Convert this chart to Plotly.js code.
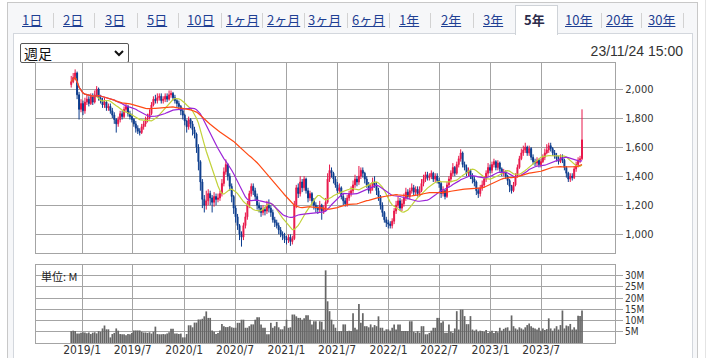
<!DOCTYPE html>
<html>
<head>
<meta charset="utf-8">
<script src="https://cdn.plot.ly/plotly-3.0.1.min.js"></script>
<style>
html,body{margin:0;padding:0;width:709px;height:358px;overflow:hidden;background:#fff;font-family:"Noto Sans CJK JP",sans-serif;}
#outer{position:absolute;left:7px;top:2px;width:689px;height:420px;border:1px solid #c8c8c8;background:#f6f7f9;}
#panel{position:absolute;left:13px;top:33px;width:678px;height:420px;border:1px solid #d3d7dd;background:#fff;}
#active{position:absolute;left:515px;top:5px;width:41px;height:29px;border:1px solid #cfd3d8;border-bottom:none;background:#fff;z-index:2;}
.tab{position:absolute;top:11px;font-size:13px;line-height:17px;color:#1f3f93;text-decoration:underline;white-space:nowrap;z-index:3;}
.tab.on{color:#2b2b4a;font-weight:bold;text-decoration:none;}
.sep{position:absolute;top:13px;width:1px;height:15px;background:#d2d2d2;z-index:3;}
#sel{position:absolute;left:20px;top:43px;width:107px;height:18px;border:1px solid #555;border-radius:2px;background:#fff;font-size:14px;line-height:18px;color:#111;z-index:3;}
#sel span{position:absolute;left:3px;top:0;}
#sel svg{position:absolute;right:4px;top:6px;}
#stamp{position:absolute;right:26px;top:42px;font-family:"Liberation Sans",Arial,sans-serif;font-size:14px;line-height:18px;color:#333;z-index:3;}
#rbar{position:absolute;left:705px;top:0;width:1px;height:358px;background:#e4e4e4;}
#chart{position:absolute;left:0;top:0;width:709px;height:358px;z-index:4;}
</style>
</head>
<body>
<div id="outer"></div>
<div id="panel"></div>
<div id="active"></div>
<div id="rbar"></div>
<div id="tabs"></div>
<div id="sel"><span>週足</span><svg width="10" height="7" viewBox="0 0 10 7"><path d="M1 1 L5 5 L9 1" stroke="#111" stroke-width="2" fill="none"/></svg></div>
<div id="stamp">23/11/24 15:00</div>
<div id="chart"></div>
<script>
// ---- tab bar ----
const tabLabels = ["1日","2日","3日","5日","10日","1ヶ月","2ヶ月","3ヶ月","6ヶ月","1年","2年","3年","5年","10年","20年","30年"];
const tabLeft = [22,63,105,147,187,226,267,308,352,399,441,483,524,565,606,648];
const sepLeft = [53,94,137,178,221,262,304,347,389,430,473,601,641,683];
const activeTab = "5年";
(function(){
  const t = document.getElementById('tabs');
  tabLabels.forEach((s,i)=>{
    const d=document.createElement('div');
    d.className='tab'+(s===activeTab?' on':'');
    d.style.left=tabLeft[i]+'px';
    d.textContent=s; t.appendChild(d);
  });
  sepLeft.forEach(x=>{const d=document.createElement('div');d.className='sep';d.style.left=x+'px';t.appendChild(d);});
})();

// ---- data (weekly, last week ending 2023-11-24) ----
const lastWeek = "2023-11-24";
const opens = [2030,2050,2080,2110,1960,1860,1900,1850,1910,1930,1900,1950,1910,1960,2000,1940,1920,1890,1910,1870,1880,1850,1820,1790,1760,1790,1830,1810,1860,1880,1830,1810,1790,1760,1730,1710,1700,1740,1760,1790,1800,1830,1890,1930,1920,1940,1950,1920,1930,1950,1930,1960,1970,1940,1920,1900,1880,1850,1820,1780,1740,1790,1760,1720,1690,1600,1500,1360,1240,1200,1230,1280,1250,1220,1260,1240,1250,1280,1350,1430,1480,1400,1330,1260,1180,1120,1060,1000,980,1060,1120,1200,1280,1330,1300,1260,1200,1180,1150,1170,1160,1200,1180,1150,1100,1080,1060,1030,1000,990,970,960,980,950,970,1200,1320,1280,1360,1320,1380,1300,1250,1280,1230,1200,1180,1170,1200,1160,1180,1220,1380,1440,1420,1380,1340,1300,1320,1260,1230,1210,1250,1280,1300,1340,1380,1360,1400,1440,1420,1380,1340,1300,1320,1360,1340,1300,1260,1200,1150,1100,1080,1070,1060,1090,1160,1200,1230,1180,1210,1250,1290,1260,1300,1320,1290,1310,1280,1300,1350,1380,1410,1390,1400,1420,1380,1400,1370,1350,1280,1300,1260,1340,1380,1420,1460,1420,1480,1520,1560,1480,1460,1420,1440,1400,1380,1360,1300,1280,1320,1340,1380,1420,1460,1440,1480,1500,1460,1490,1450,1420,1430,1400,1370,1330,1300,1340,1400,1460,1520,1560,1580,1600,1560,1590,1530,1500,1490,1510,1480,1500,1530,1560,1580,1610,1590,1560,1540,1520,1500,1530,1510,1460,1420,1380,1400,1390,1450,1480,1510,1520];
const highs = [2090,2110,2135,2120,1980,1930,1920,1940,1960,1950,1970,1970,1990,2020,2010,1960,1940,1940,1920,1900,1900,1870,1840,1800,1810,1850,1850,1880,1900,1890,1850,1830,1800,1780,1750,1730,1760,1780,1810,1830,1860,1910,1950,1960,1970,1970,1970,1950,1970,1970,1990,1990,1980,1960,1930,1920,1890,1870,1830,1790,1810,1800,1780,1740,1700,1620,1510,1380,1270,1300,1310,1300,1270,1290,1280,1280,1300,1380,1460,1515,1490,1420,1350,1270,1200,1140,1070,1020,1080,1150,1230,1300,1350,1350,1320,1280,1220,1200,1200,1190,1230,1240,1200,1170,1120,1100,1080,1050,1020,1010,990,1000,1000,990,1230,1340,1350,1400,1380,1400,1390,1320,1300,1290,1250,1220,1200,1230,1210,1200,1250,1420,1480,1460,1430,1400,1360,1350,1330,1280,1250,1270,1300,1330,1370,1410,1400,1470,1460,1460,1430,1400,1360,1350,1390,1400,1360,1320,1270,1220,1160,1120,1100,1090,1110,1180,1230,1260,1250,1240,1280,1320,1310,1320,1350,1340,1330,1330,1330,1380,1410,1430,1430,1420,1440,1430,1420,1420,1390,1360,1330,1310,1360,1400,1440,1490,1470,1500,1540,1585,1570,1500,1480,1460,1450,1420,1400,1370,1320,1340,1370,1400,1440,1490,1480,1500,1520,1510,1510,1500,1460,1450,1440,1410,1380,1340,1360,1420,1480,1540,1590,1610,1630,1610,1610,1600,1550,1520,1530,1520,1520,1550,1590,1620,1630,1630,1600,1580,1560,1540,1550,1550,1520,1470,1430,1420,1420,1470,1500,1530,1540,1860];
const lows = [2010,2040,2060,1930,1790,1840,1820,1830,1890,1880,1890,1890,1900,1950,1920,1900,1870,1870,1850,1850,1830,1800,1760,1700,1740,1770,1790,1800,1840,1810,1790,1770,1740,1700,1690,1680,1690,1720,1740,1770,1790,1820,1880,1900,1900,1920,1900,1900,1910,1910,1920,1940,1920,1900,1870,1860,1820,1790,1750,1700,1720,1730,1680,1660,1560,1440,1300,1180,1150,1170,1200,1200,1150,1190,1200,1220,1230,1260,1330,1410,1370,1300,1220,1140,1080,1030,960,915,960,1040,1100,1180,1260,1270,1230,1170,1150,1120,1130,1130,1140,1150,1120,1080,1050,1040,1000,980,960,940,930,940,920,930,960,1180,1250,1260,1290,1300,1280,1220,1230,1200,1170,1150,1140,1150,1100,1140,1160,1210,1360,1390,1350,1320,1280,1280,1240,1200,1190,1190,1230,1260,1280,1320,1330,1340,1380,1390,1350,1320,1280,1280,1300,1320,1270,1230,1170,1120,1080,1050,1040,1040,1040,1070,1140,1180,1160,1160,1190,1230,1240,1240,1280,1270,1270,1260,1260,1290,1330,1360,1370,1370,1380,1360,1360,1350,1320,1250,1260,1240,1250,1320,1360,1400,1400,1410,1460,1500,1460,1440,1400,1400,1380,1350,1330,1270,1250,1260,1300,1320,1360,1400,1420,1420,1460,1440,1440,1430,1400,1400,1380,1340,1290,1280,1290,1330,1390,1450,1510,1540,1560,1540,1540,1510,1480,1470,1470,1460,1460,1490,1510,1550,1560,1570,1540,1520,1500,1480,1490,1490,1440,1390,1360,1360,1370,1380,1430,1460,1490,1510];
const closes = [2050,2080,2110,1960,1860,1900,1850,1910,1930,1900,1950,1910,1960,2000,1940,1920,1890,1910,1870,1880,1850,1820,1790,1760,1790,1830,1810,1860,1880,1830,1810,1790,1760,1730,1710,1700,1740,1760,1790,1800,1830,1890,1930,1920,1940,1950,1920,1930,1950,1930,1960,1970,1940,1920,1900,1880,1850,1820,1780,1740,1790,1760,1720,1690,1600,1500,1360,1240,1200,1230,1280,1250,1220,1260,1240,1250,1280,1350,1430,1480,1400,1330,1260,1180,1120,1060,1000,980,1060,1120,1200,1280,1330,1300,1260,1200,1180,1150,1170,1160,1200,1180,1150,1100,1080,1060,1030,1000,990,970,960,980,950,970,1200,1320,1280,1360,1320,1380,1300,1250,1280,1230,1200,1180,1170,1200,1160,1180,1220,1380,1440,1420,1380,1340,1300,1320,1260,1230,1210,1250,1280,1300,1340,1380,1360,1400,1440,1420,1380,1340,1300,1320,1360,1340,1300,1260,1200,1150,1100,1080,1070,1060,1090,1160,1200,1230,1180,1210,1250,1290,1260,1300,1320,1290,1310,1280,1300,1350,1380,1410,1390,1400,1420,1380,1400,1370,1350,1280,1300,1260,1340,1380,1420,1460,1420,1480,1520,1560,1480,1460,1420,1440,1400,1380,1360,1300,1280,1320,1340,1380,1420,1460,1440,1480,1500,1460,1490,1450,1420,1430,1400,1370,1330,1300,1340,1400,1460,1520,1560,1580,1600,1560,1590,1530,1500,1490,1510,1480,1500,1530,1560,1580,1610,1590,1560,1540,1520,1500,1530,1510,1460,1420,1380,1400,1390,1450,1480,1510,1520,1650];
// weekly volume, millions of shares
const volumes = [5.3,5.5,5.3,4.2,4.2,4.6,4.8,4.7,4.3,4.7,4.0,4.6,4.8,4.3,5.3,5.0,6.5,7.8,6.1,6.1,2.5,4.0,4.5,6.5,5.5,4.0,3.9,3.9,3.5,4.0,3.9,4.5,5.6,5.6,5.6,5.6,5.0,4.7,4.7,4.5,4.8,4.2,5.0,7.3,4.0,3.9,3.9,4.0,3.9,4.2,4.8,6.4,6.4,4.2,4.2,4.0,4.2,2.5,2.5,4.0,7.9,7.9,7.0,9.1,9.1,10.5,10.5,10.8,11.9,14.1,11.2,11.2,5.6,5.0,4.0,4.5,5.6,8.5,7.5,7.1,7.1,7.5,7.0,6.8,6.8,9.0,9.0,10.4,10.4,6.8,6.8,7.5,8.3,8.3,10.4,11.5,11.5,8.3,6.8,6.8,3.9,3.9,9.0,6.8,7.5,9.4,7.0,6.1,6.1,7.5,10.4,6.8,7.0,12.7,12.7,11.9,11.2,11.2,10.4,11.0,12.4,12.4,10.4,8.3,9.7,9.7,6.1,9.7,9.5,6.0,32.4,18.6,14.2,10.4,8.3,6.8,5.3,5.3,5.3,8.3,8.3,5.3,5.5,5.3,13.3,6.8,6.0,17.4,9.0,13.3,7.5,7.5,7.0,8.3,7.0,8.0,7.5,11.9,6.8,6.8,5.5,6.1,6.1,5.5,6.8,8.3,6.0,8.3,8.3,5.3,5.3,5.3,5.3,9.7,9.7,5.0,4.6,5.3,4.6,7.5,7.5,3.9,3.9,4.5,5.5,6.8,6.8,11.2,11.2,9.0,9.7,4.6,4.6,8.3,5.0,4.6,6.5,14.2,6.0,14.9,14.9,12.0,8.4,8.4,12.0,6.0,5.5,6.0,5.0,5.5,5.3,5.0,5.8,4.5,5.0,5.5,4.5,5.3,4.8,6.8,5.5,6.3,6.8,7.0,5.5,12.3,7.5,6.5,6.0,7.0,6.5,6.0,7.0,8.0,8.7,7.5,6.8,6.5,6.0,6.8,5.5,6.5,5.8,6.2,11.0,6.5,5.5,6.5,7.5,6.0,8.0,14.5,6.5,7.8,7.5,8.5,6.0,7.0,6.0,12.2,12.0,14.5];
const tickDates = ["2019-01-01","2019-07-01","2020-01-01","2020-07-01","2021-01-01","2021-07-01","2022-01-01","2022-07-01","2023-01-01","2023-07-01"];
const tickLabels = ["2019/1","2019/7","2020/1","2020/7","2021/1","2021/7","2022/1","2022/7","2023/1","2023/7"];
const priceTicks = [1000,1200,1400,1600,1800,2000];
const volTicks = [5,10,15,20,25,30];
const volTickLabels = ["5M","10M","15M","20M","25M","30M"];
const maPeriods = [13,26,52];
const maColors = ["#c2d23a","#9c25d8","#ff4a14"];

// weekly dates (Fridays) ending at lastWeek
const n = closes.length;
const dates = [];
{
  const end = new Date(lastWeek+"T00:00:00Z");
  for (let i=0;i<n;i++){
    const d = new Date(end.getTime() - (n-1-i)*7*86400000);
    dates.push(d.toISOString().slice(0,10));
  }
}
function sma(arr, p){
  const out=[];
  for(let i=0;i<arr.length;i++){
    const s=Math.max(0,i-p+1); let sum=0;
    for(let j=s;j<=i;j++) sum+=arr[j];
    out.push(sum/(i-s+1));
  }
  return out;
}

const UP="#e8174a", DN="#0b3b8c", GRID="#a4a4a4";
const traces = [{
  type:"candlestick", x:dates, open:opens, high:highs, low:lows, close:closes,
  xaxis:"x", yaxis:"y",
  increasing:{line:{color:UP,width:1},fillcolor:UP},
  decreasing:{line:{color:DN,width:1},fillcolor:DN},
  whiskerwidth:0, hoverinfo:"skip", showlegend:false
}];
maPeriods.forEach((p,k)=>{
  traces.push({type:"scatter",mode:"lines",x:dates,y:sma(closes,p),xaxis:"x",yaxis:"y",
    line:{color:maColors[k],width:1.2},hoverinfo:"skip",showlegend:false});
});
traces.push({type:"bar",x:dates,y:volumes,xaxis:"x2",yaxis:"y2",
  marker:{color:"#666666",line:{width:0}},hoverinfo:"skip",showlegend:false});

const axFont = {family:"DejaVu Sans Condensed, DejaVu Sans, sans-serif", size:11, color:"#333"};
const xRange = ["2018-07-20","2024-03-21"];
const layout = {
  width:709, height:358,
  margin:{l:36,r:94,t:63,b:15,pad:0},
  paper_bgcolor:"rgba(0,0,0,0)", plot_bgcolor:"rgba(0,0,0,0)",
  showlegend:false, bargap:0.12,
  xaxis:{type:"date",range:xRange,anchor:"y",tickvals:tickDates,showticklabels:false,
    showgrid:true,gridcolor:GRID,gridwidth:1,showline:true,mirror:true,linecolor:GRID,linewidth:1,
    ticks:"",zeroline:false,rangeslider:{visible:false},fixedrange:true},
  yaxis:{domain:[0.3214,1],range:[871,2179],side:"right",tickvals:priceTicks,tickformat:",d",
    showgrid:true,gridcolor:GRID,gridwidth:1,showline:true,mirror:true,linecolor:GRID,linewidth:1,
    ticks:"outside",ticklen:7,tickcolor:GRID,tickfont:axFont,zeroline:false,fixedrange:true},
  xaxis2:{type:"date",range:xRange,anchor:"y2",tickvals:tickDates,ticktext:tickLabels,
    showgrid:true,gridcolor:GRID,gridwidth:1,showline:true,mirror:true,linecolor:GRID,linewidth:1,
    ticks:"",ticklabelstandoff:-4,
    tickfont:{family:"DejaVu Sans Condensed, DejaVu Sans, sans-serif",size:12,color:"#333"},
    zeroline:false,fixedrange:true},
  yaxis2:{domain:[0,0.2786],range:[0,34.8],side:"right",tickvals:volTicks,ticktext:volTickLabels,
    showgrid:true,gridcolor:GRID,gridwidth:1,showline:true,mirror:true,linecolor:GRID,linewidth:1,
    ticks:"outside",ticklen:7,tickcolor:GRID,
    tickfont:{family:"DejaVu Sans Condensed, DejaVu Sans, sans-serif",size:10,color:"#333"},
    zeroline:false,fixedrange:true},
  annotations:[{text:"単位: M",xref:"paper",yref:"paper",x:0,y:0.2786,xanchor:"left",yanchor:"top",
    xshift:3,yshift:-1,showarrow:false,font:{family:"Noto Sans CJK JP, sans-serif",size:11,color:"#222"}}]
};
Plotly.newPlot("chart", traces, layout, {staticPlot:true, displayModeBar:false});
</script>
</body>
</html>
